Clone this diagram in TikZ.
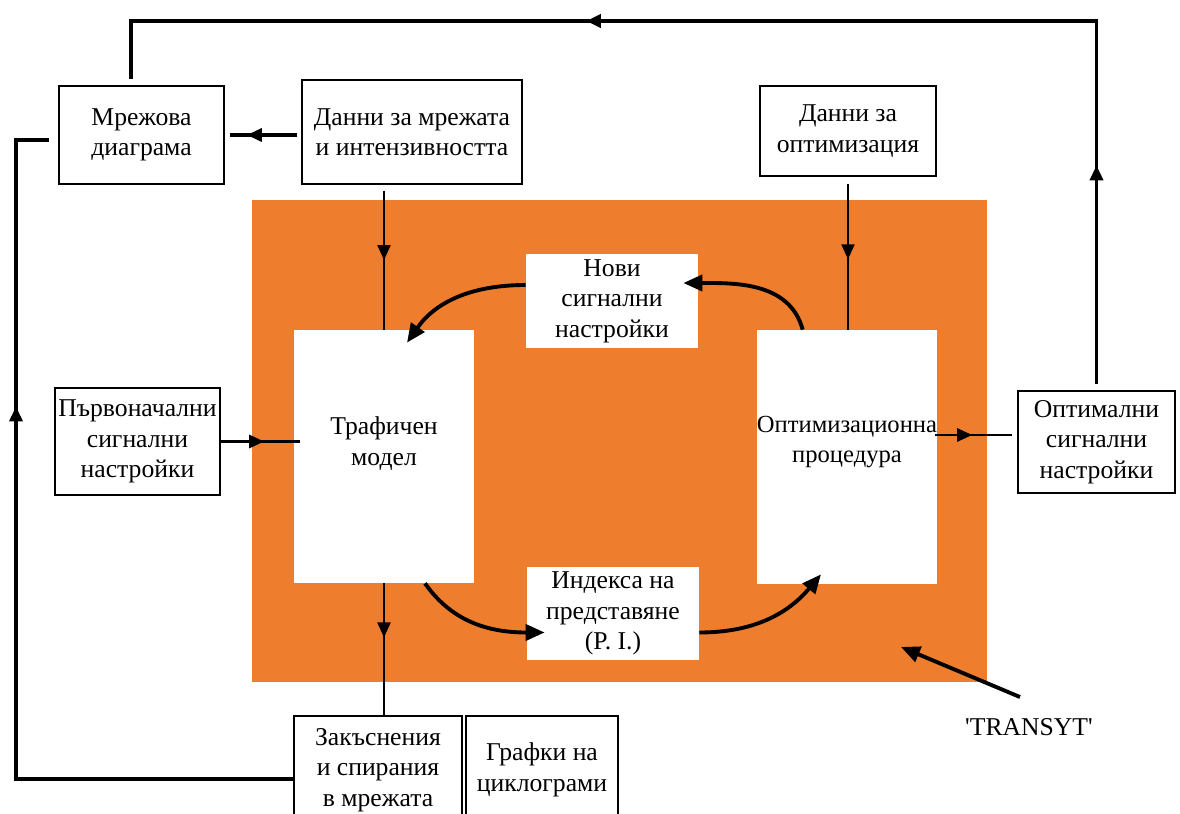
\documentclass[tikz,border=0pt]{standalone}
\usepackage{fontspec}
\setmainfont{Liberation Serif}
\usetikzlibrary{arrows.meta,decorations.markings,calc}
\definecolor{transytorange}{RGB}{238,125,45}

\begin{document}
\begin{tikzpicture}[x=0.02cm, y=-0.02cm,
  every node/.style={font=\fontsize{14.6}{17.3}\selectfont, align=center, inner sep=0pt},
  databox/.style={draw, line width=0.8pt, fill=white},
  innerbox/.style={fill=white},
  midarrow/.style={decoration={markings, mark=at position #1 with {\arrow{Triangle[length=0.3cm,width=0.26cm]}}}, postaction=decorate},
  flowline/.style={line width=1.2pt},
  curvearrow/.style={line width=2.2pt, -{Triangle[length=0.38cm,width=0.32cm]}}]
\useasboundingbox (0,0) rectangle (1180,814);
\clip (0,0) rectangle (1180,814);

%TRANSYT core
\node[fill=transytorange, minimum width=14.7cm, minimum height=9.64cm] (core) at (619.5,441) {};
\node[innerbox, minimum width=3.6cm, minimum height=5.06cm,
  label={[yshift=0.26cm]center:Трафичен\\модел}] (trafik) at (384,456.5) {};
\node[innerbox, minimum width=3.6cm, minimum height=5.08cm,
  label={[yshift=0.3cm, font=\fontsize{14}{17.3}\selectfont]center:Оптимизационна\\процедура}] (optproc) at (847,457) {};
\node[innerbox, minimum width=3.44cm, minimum height=1.88cm] (novi) at (612,301) {Нови\\сигнални\\настройки};
\node[innerbox, minimum width=3.44cm, minimum height=1.86cm] (indeks) at (613,613.5) {Индекса на\\представяне\\(P. I.)};

%Outer boxes
\node[databox, minimum width=3.3cm, minimum height=1.96cm] (mrezha) at (141.5,135) {Мрежова\\диаграма};
\node[databox, minimum width=4.4cm, minimum height=2.08cm] (danni) at (412,132) {Данни за мрежата\\и интензивността};
\node[databox, minimum width=3.52cm, minimum height=1.8cm] (optdata) at (848,131) {Данни за\\оптимизация};
\node[databox, minimum width=3.3cm, minimum height=2.14cm] (parvo) at (137.5,441.5) {Първоначални\\сигнални\\настройки};
\node[databox, minimum width=3.14cm, minimum height=2.04cm] (optimal) at (1096.5,442) {Оптимални\\сигнални\\настройки};
\node[databox, minimum width=3.36cm, minimum height=2.16cm] (zakas) at (378,770) {Закъснения\\и спирания\\в мрежата};
\node[databox, minimum width=3.04cm, minimum height=2.16cm] (grafki) at (542,770) {Графки на\\циклограми};
\node (transyt) at (1029,727) {\textquotesingle TRANSYT\textquotesingle};

\coordinate (tr) at (1096.5,21);
\coordinate (tl) at (131,21);
\coordinate (bl) at (16,779);
\coordinate (ml) at (16,140);
\coordinate (coretip) at (901,647);

%Feedback loops
\draw[line width=2.2pt, shorten <=0.12cm, shorten >=0.12cm,
  decoration={markings,
    mark=at position 4.5cm with {\arrow{Triangle[length=0.3cm,width=0.26cm]}},
    mark=at position 17.6cm with {\arrow{Triangle[length=0.3cm,width=0.26cm]}}},
  postaction=decorate]
  (optimal.north) -- (tr) -- (tl) -- (tl |- mrezha.north);
\draw[line width=2pt, shorten >=0.18cm,
  decoration={markings,
    mark=at position 13cm with {\arrow{Triangle[length=0.3cm,width=0.26cm]}}},
  postaction=decorate]
  (zakas.west |- bl) -- (bl) -- (ml) -- (ml -| mrezha.west);

%Straight arrows
\draw[line width=2pt, midarrow=0.71, shorten <=0.08cm, shorten >=0.1cm] (danni.west |- mrezha.east) -- (mrezha.east);
\draw[flowline, midarrow=0.52, shorten <=0.12cm] (danni.south -| trafik.north) -- (trafik.north);
\draw[flowline, midarrow=0.54, shorten <=0.14cm] (optdata.south) -- (optdata.south |- optproc.north);
\draw[line width=1.7pt, midarrow=0.55] (parvo.east) -- ([xshift=0.12cm]parvo.east -| trafik.west);
\draw[line width=1.4pt, midarrow=0.45, shorten >=0.1cm] ([xshift=-0.04cm,yshift=0.14cm]optproc.east |- optimal.west) -- ([yshift=0.14cm]optimal.west);
\draw[flowline, midarrow=0.41] (trafik.south) -- (trafik.south |- zakas.north);

%Cycle
\draw[curvearrow] ([xshift=0.92cm]optproc.north west) to[out=105, in=0] ([xshift=-0.3cm,yshift=0.36cm]novi.east);
\draw[curvearrow] ([yshift=0.32cm]novi.west) to[out=180, in=55] ([xshift=0.46cm,yshift=-0.26cm]trafik.north);
\draw[curvearrow] ([xshift=0.82cm]trafik.south) to[out=-55, in=180] ([xshift=0.36cm,yshift=-0.38cm]indeks.west);
\draw[curvearrow] ([yshift=-0.38cm]indeks.east) to[out=0, in=230] ([xshift=-0.52cm,yshift=0.2cm]optproc.south);
\draw[curvearrow] ([xshift=-0.18cm,yshift=0.42cm]transyt.north) -- (coretip);

\end{tikzpicture}
\end{document}
